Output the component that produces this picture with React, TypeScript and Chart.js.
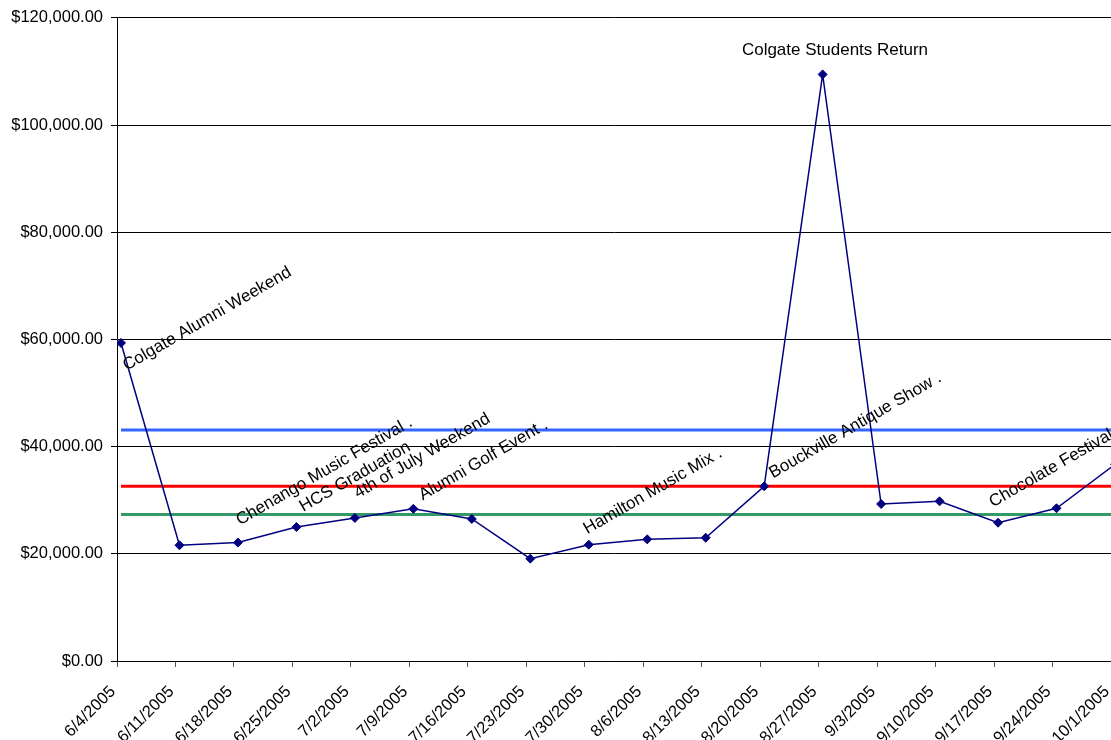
import React, { useEffect, useRef } from "react";
import { Chart, registerables } from "chart.js";

Chart.register(...registerables);

const weekLabels = [
  "6/4/2005", "6/11/2005", "6/18/2005", "6/25/2005", "7/2/2005", "7/9/2005",
  "7/16/2005", "7/23/2005", "7/30/2005", "8/6/2005", "8/13/2005", "8/20/2005",
  "8/27/2005", "9/3/2005", "9/10/2005", "9/17/2005", "9/24/2005", "10/1/2005",
];

const weeklySales = [
  59350, 21600, 22100, 25000, 26700, 28400, 26500, 19100, 21700, 22700, 23000,
  32600, 109450, 29300, 29800, 25800, 28500, 36700,
];

const blueLevel = [
  43100, 43100, 43100, 43100, 43100, 43100, 43100, 43100, 43100, 43100, 43100,
  43100, 43100, 43100, 43100, 43100, 43100, 43100,
];
const redLevel = [
  32600, 32600, 32600, 32600, 32600, 32600, 32600, 32600, 32600, 32600, 32600,
  32600, 32600, 32600, 32600, 32600, 32600, 32600,
];
const greenLevel = [
  27350, 27350, 27350, 27350, 27350, 27350, 27350, 27350, 27350, 27350, 27350,
  27350, 27350, 27350, 27350, 27350, 27350, 27350,
];

const yTickValues = [0, 20000, 40000, 60000, 80000, 100000, 120000];

const eventNames = [
  "Colgate Alumni Weekend",
  "Chenango Music Festival .",
  "HCS Graduation",
  "4th of July Weekend",
  "Alumni Golf Event .",
  "Hamilton Music Mix .",
  "Colgate Students Return",
  "Bouckville Antique Show .",
  "Chocolate Festival",
];
// anchor of each event label, in data units (week index, dollars)
const eventAnchorIndex = [0.097, 2.035, 3.118, 4.053, 5.16, 7.975, 12.211, 11.151, 14.914];
const eventAnchorValue = [54140, 25300, 27780, 30330, 29950, 23630, 113170, 34050, 28650];
const eventAngle = [-30, -30, -30, -30, -30, -30, 0, -30, -30];

// Excel draws the category tick marks slightly left of the plotted points
const TICK_SHIFT = 0.0684;

const FONT = "Arial, 'Liberation Sans', sans-serif";

const money = (v: number) =>
  "$" + v.toLocaleString("en-US", { minimumFractionDigits: 2, maximumFractionDigits: 2 });

const eventLabelPlugin = {
  id: "eventLabels",
  afterDatasetsDraw(chart: any) {
    const { ctx, scales } = chart;
    const xs = scales.x;
    const ys = scales.y;
    ctx.save();
    ctx.font = `17px ${FONT}`;
    ctx.fillStyle = "#000";
    ctx.textBaseline = "alphabetic";
    eventNames.forEach((name, i) => {
      const px = xs.getPixelForValue(eventAnchorIndex[i]);
      const py = ys.getPixelForValue(eventAnchorValue[i]);
      ctx.save();
      ctx.translate(px, py);
      ctx.rotate((eventAngle[i] * Math.PI) / 180);
      ctx.textAlign = eventAngle[i] === 0 ? "center" : "left";
      ctx.fillText(name, 0, 0);
      ctx.restore();
    });
    ctx.restore();
  },
};

export default function App() {
  const canvasRef = useRef<HTMLCanvasElement | null>(null);

  useEffect(() => {
    if (!canvasRef.current) return;
    const toPoints = (arr: number[]) => arr.map((y, i) => ({ x: i, y }));
    const levelStyle = (color: string) => ({
      borderColor: color,
      backgroundColor: color,
      borderWidth: 3,
      pointRadius: 0,
      pointHoverRadius: 0,
      fill: false,
      tension: 0,
    });
    const chart = new Chart(canvasRef.current, {
      type: "line",
      data: {
        datasets: [
          {
            label: "Sales",
            data: toPoints(weeklySales),
            borderColor: "#000080",
            backgroundColor: "#000080",
            borderWidth: 1.5,
            pointStyle: "rectRot",
            pointRadius: 4.5,
            pointBorderWidth: 1,
            pointBackgroundColor: "#000080",
            pointBorderColor: "#000080",
            fill: false,
            tension: 0,
          },
          { label: "Blue", data: toPoints(blueLevel), ...levelStyle("#3366FF") },
          { label: "Red", data: toPoints(redLevel), ...levelStyle("#FF0000") },
          { label: "Green", data: toPoints(greenLevel), ...levelStyle("#339966") },
        ],
      },
      options: {
        responsive: false,
        animation: false,
        devicePixelRatio: 1,
        layout: { autoPadding: false, padding: { top: 16, left: 0, right: 0, bottom: 0 } },
        plugins: {
          legend: { display: false },
          title: { display: false },
          tooltip: { enabled: false },
        },
        scales: {
          x: {
            type: "linear",
            min: -TICK_SHIFT,
            max: weekLabels.length - 1 - TICK_SHIFT,
            afterBuildTicks(scale: any) {
              scale.ticks = weekLabels.map((_, i) => ({ value: i - TICK_SHIFT }));
            },
            grid: {
              display: true,
              drawOnChartArea: false,
              drawTicks: true,
              tickLength: 6,
              color: "#555",
              lineWidth: 1,
            },
            border: { display: true, color: "#000", width: 1 },
            ticks: {
              autoSkip: false,
              maxRotation: 45,
              minRotation: 45,
              padding: 15,
              labelOffset: -4,
              color: "#000",
              font: { family: FONT, size: 16.5 },
              callback: (_v: any, index: number) => weekLabels[index],
            },
            afterFit(scale: any) {
              scale.height = 79;
              scale.paddingLeft = 0;
              scale.paddingRight = 0;
            },
          },
          y: {
            type: "linear",
            min: 0,
            max: 120000,
            afterBuildTicks(scale: any) {
              scale.ticks = yTickValues.map((v) => ({ value: v }));
            },
            grid: {
              color: "#000",
              lineWidth: 1,
              drawTicks: true,
              tickLength: 6,
            },
            border: { display: true, color: "#000", width: 1 },
            ticks: {
              padding: 8,
              color: "#000",
              font: { family: FONT, size: 16.5 },
              callback: (v: any) => money(Number(v)),
            },
            afterFit(scale: any) {
              scale.width = 117;
            },
          },
        },
      },
      plugins: [eventLabelPlugin],
    });
    return () => chart.destroy();
  }, []);

  return (
    <canvas
      ref={canvasRef}
      width={1111}
      height={740}
      style={{ position: "absolute", left: 0, top: 0, display: "block", background: "#fff" }}
    />
  );
}
